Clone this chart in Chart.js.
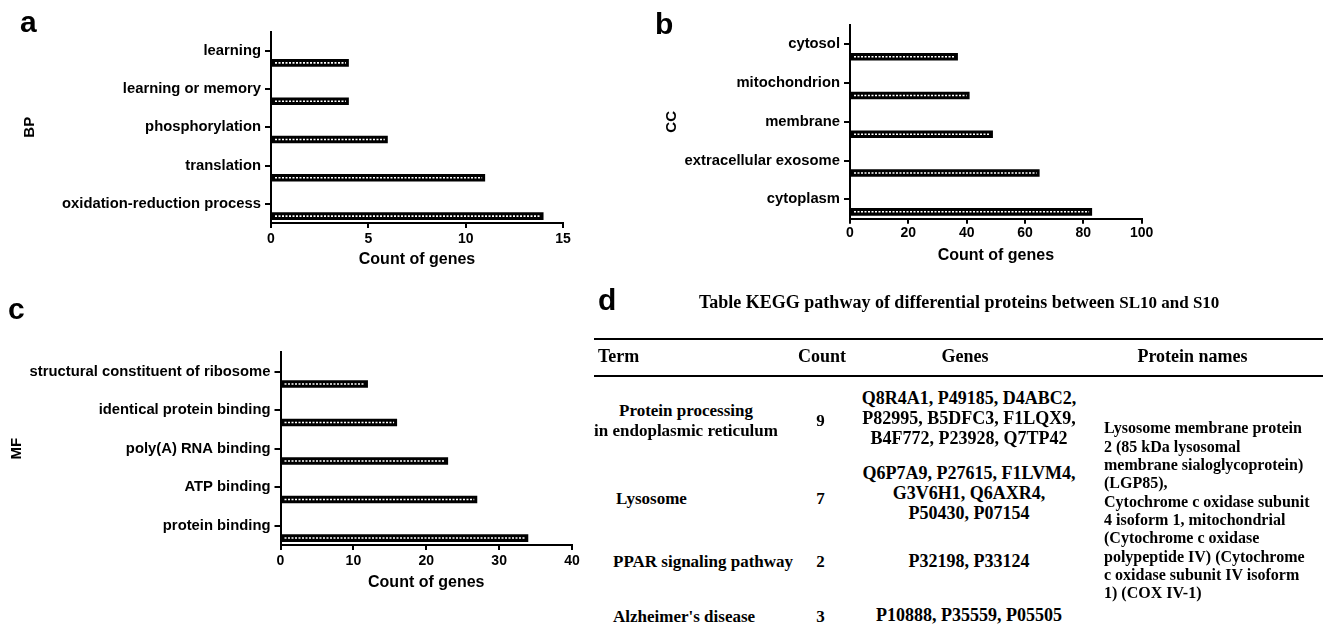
<!DOCTYPE html>
<html><head><meta charset="utf-8">
<script src="https://cdn.jsdelivr.net/npm/chart.js@4.4.1/dist/chart.umd.min.js"></script>
<style>
html,body{margin:0;padding:0;background:#fff;}
body{width:1328px;height:637px;position:relative;overflow:hidden;}
canvas{position:absolute;display:block;}
.t{position:absolute;white-space:nowrap;color:#000;}
.letter{font-family:"Liberation Sans",Arial,sans-serif;font-weight:bold;font-size:30px;line-height:30px;}
.serif{font-family:"Liberation Serif","Times New Roman",serif;font-weight:bold;}
.rule{position:absolute;background:#000;height:2px;}
</style></head><body>
<canvas id="ca" width="600" height="280" style="left:0;top:0"></canvas>
<canvas id="cb" width="520" height="280" style="left:640px;top:0"></canvas>
<canvas id="cc" width="600" height="310" style="left:0;top:290px"></canvas>
<div class="t letter" style="left:20px;top:7px">a</div>
<div class="t letter" style="left:655px;top:9px">b</div>
<div class="t letter" style="left:8px;top:294px">c</div>
<div class="t letter" style="left:598px;top:285px">d</div>
<div id="table"></div>
<script>
// ---- data ----
const bpLabels = ['learning', 'learning or memory', 'phosphorylation', 'translation', 'oxidation-reduction process'];
const bpCounts = [4, 4, 6, 11, 14];
const ccLabels = ['cytosol', 'mitochondrion', 'membrane', 'extracellular exosome', 'cytoplasm'];
const ccCounts = [37, 41, 49, 65, 83];
const mfLabels = ['structural constituent of ribosome', 'identical protein binding', 'poly(A) RNA binding', 'ATP binding', 'protein binding'];
const mfCounts = [12, 16, 23, 27, 34];
const xAxisTitle = 'Count of genes';

const keggTitle = 'Table KEGG pathway of differential proteins between ';
const keggTitleTail = 'SL10 and S10';
const keggHeaders = ['Term', 'Count', 'Genes', 'Protein names'];
const keggTerms = [['Protein processing', 'in endoplasmic reticulum'], ['Lysosome'], ['PPAR signaling pathway'], ["Alzheimer's disease"]];
const keggCounts = [9, 7, 2, 3];
const keggGenes = [
  ['Q8R4A1, P49185, D4ABC2,', 'P82995, B5DFC3, F1LQX9,', 'B4F772, P23928, Q7TP42'],
  ['Q6P7A9, P27615, F1LVM4,', 'G3V6H1, Q6AXR4,', 'P50430, P07154'],
  ['P32198, P33124'],
  ['P10888, P35559, P05505']
];
const proteinNames = ['Lysosome membrane protein', '2 (85 kDa lysosomal', 'membrane sialoglycoprotein)', '(LGP85),',
  'Cytochrome c oxidase subunit', '4 isoform 1, mitochondrial', '(Cytochrome c oxidase', 'polypeptide IV) (Cytochrome',
  'c oxidase subunit IV isoform', '1) (COX IV-1)'];

// ---- charts ----
const SANS = '"Liberation Sans", Arial, sans-serif';
const dotPlugin = {
  id: 'dots',
  afterDatasetsDraw(chart) {
    const meta = chart.getDatasetMeta(1);
    const ctx = chart.ctx;
    ctx.save();
    ctx.strokeStyle = '#ffffff';
    ctx.lineWidth = 1.6;
    ctx.setLineDash([2, 1.5]);
    meta.data.forEach(el => {
      const p = el.getProps(['x', 'y', 'base'], true);
      ctx.beginPath();
      ctx.moveTo(p.base + 3, p.y);
      ctx.lineTo(p.x - 3, p.y);
      ctx.stroke();
    });
    ctx.restore();
  }
};

function makeChart(id, labels, values, o) {
  new Chart(document.getElementById(id), {
    type: 'bar',
    data: {
      labels: labels,
      datasets: [
        { data: labels.map(() => null), backgroundColor: '#000' },
        { data: values, backgroundColor: '#000', borderWidth: 0 }
      ]
    },
    options: {
      indexAxis: 'y',
      responsive: false,
      animation: false,
      events: [],
      categoryPercentage: o.cat,
      barPercentage: o.bar,
      layout: { padding: { left: 0, top: o.top, right: o.right, bottom: 0 } },
      plugins: { legend: { display: false }, tooltip: { enabled: false } },
      scales: {
        y: {
          type: 'category',
          offset: true,
          grid: { display: true, drawOnChartArea: false, drawTicks: true, tickLength: 6, tickWidth: 2, lineWidth: 2, tickColor: '#000', color: '#000', offset: false },
          border: { display: true, color: '#000', width: 2 },
          ticks: { color: '#000', font: { family: SANS, weight: 'bold', size: 14.8 }, padding: 4, autoSkip: false },
          title: { display: true, text: o.yTitle, color: '#000', font: { family: SANS, weight: 'bold', size: 15 }, padding: { top: o.yTitlePad, bottom: 0 } },
          afterFit(s) { s.width = o.yW; }
        },
        x: {
          type: 'linear',
          min: 0, max: o.max,
          grid: { display: true, drawOnChartArea: false, drawTicks: true, tickLength: 5, tickWidth: 2, lineWidth: 2, tickColor: '#000', color: '#000' },
          border: { display: true, color: '#000', width: 2 },
          ticks: { stepSize: o.step, color: '#000', font: { family: SANS, weight: 'bold', size: 14 }, padding: o.tickPad },
          title: { display: true, text: xAxisTitle, color: '#000', font: { family: SANS, weight: 'bold', size: 16 }, padding: { top: 0, bottom: o.xTitlePad } },
          afterFit(s) { s.height = o.xH; }
        }
      }
    },
    plugins: [dotPlugin]
  });
}

makeChart('ca', bpLabels, bpCounts, { yTitle: 'BP', yTitlePad: 21, yW: 271, top: 31.5, right: 37, xH: 57, max: 15, step: 5, tickPad: 2.6, xTitlePad: 10.4, cat: 1.28, bar: 0.31 });
makeChart('cb', ccLabels, ccCounts, { yTitle: 'CC', yTitlePad: 23, yW: 210, top: 24.9, right: 18.3, xH: 61.3, max: 100, step: 20, tickPad: 1, xTitlePad: 14.4, cat: 1.29, bar: 0.305 });
makeChart('cc', mfLabels, mfCounts, { yTitle: 'MF', yTitlePad: 8, yW: 280.5, top: 62.4, right: 28, xH: 55, max: 40, step: 10, tickPad: 2.3, xTitlePad: 8.2, cat: 1.28, bar: 0.31 });

// ---- table ----
const tbl = document.getElementById('table');
function place(html, x, y, size, align) {
  const d = document.createElement('div');
  d.className = 't serif';
  d.style.fontSize = size + 'px';
  d.style.lineHeight = size + 'px';
  d.style.top = (y - size * 0.5) + 'px';
  if (align === 'center') { d.style.left = x + 'px'; d.style.transform = 'translateX(-50%)'; }
  else d.style.left = x + 'px';
  d.innerHTML = html;
  tbl.appendChild(d);
}
function rule(y) {
  const r = document.createElement('div');
  r.className = 'rule';
  r.style.left = '594px'; r.style.width = '729px'; r.style.top = (y - 1) + 'px';
  tbl.appendChild(r);
}
place(keggTitle + '<span style="font-size:17px">' + keggTitleTail + '</span>', 699, 301.7, 18, 'left');
rule(339); rule(376);
place(keggHeaders[0], 598, 356, 18, 'left');
place(keggHeaders[1], 822, 356, 18, 'center');
place(keggHeaders[2], 965, 356, 18, 'center');
place(keggHeaders[3], 1192.5, 356, 18, 'center');

const termY = [420.7, 498.3, 561, 616.7];
const termX = [686, 616, 613, 613];
const LH = 19.7;
keggTerms.forEach((lines, i) => {
  const y0 = termY[i] - (lines.length - 1) * LH / 2;
  lines.forEach((ln, j) => place(ln, termX[i], y0 + j * LH, 17, lines.length > 1 ? 'center' : 'left'));
});
const countY = [420, 498, 561, 616.7];
keggCounts.forEach((c, i) => place(String(c), 820.5, countY[i], 17, 'center'));
const geneY = [418, 493, 561, 615];
keggGenes.forEach((lines, i) => {
  const y0 = geneY[i] - (lines.length - 1) * LH / 2;
  lines.forEach((ln, j) => place(ln, 969, y0 + j * LH, 18, 'center'));
});
proteinNames.forEach((ln, j) => place(ln, 1104, 428.3 + j * 18.33, 16, 'left'));
</script>
</body></html>
